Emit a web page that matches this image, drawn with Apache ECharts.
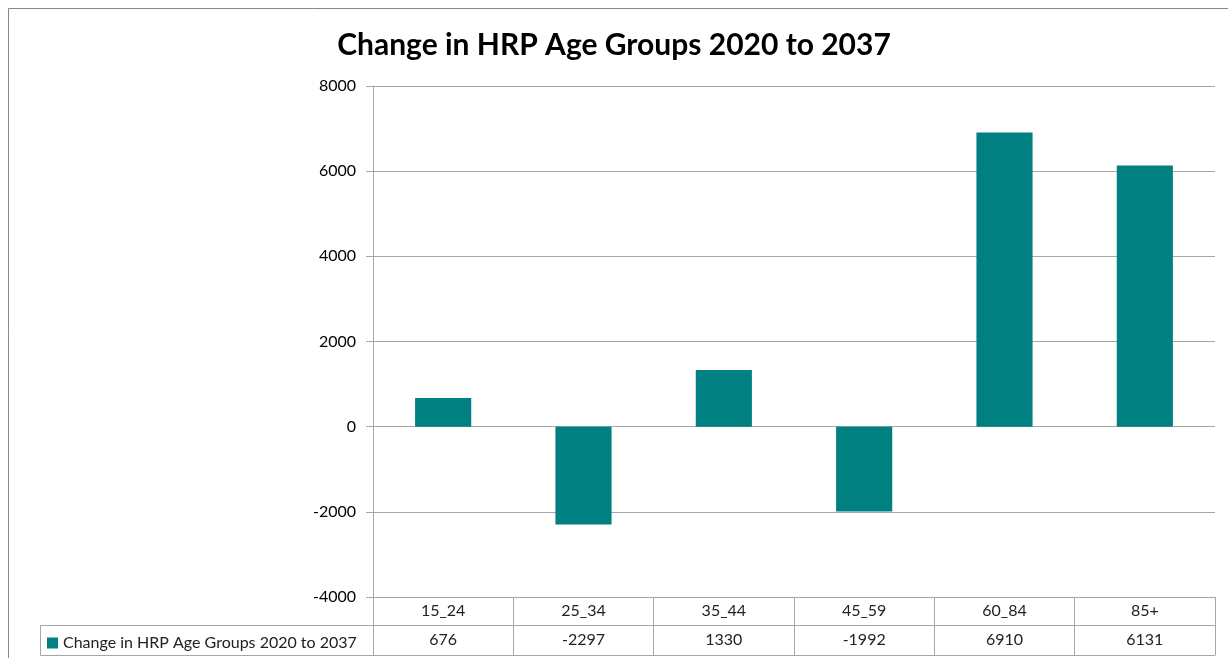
<!DOCTYPE html>
<html>
<head>
<meta charset="utf-8">
<script src="https://cdn.jsdelivr.net/npm/echarts@6/dist/echarts.min.js"></script>
<style>
html,body{margin:0;padding:0;background:#fff;}
#chart{width:1228px;height:658px;}
</style>
</head>
<body>
<div id="chart"></div>
<script>
const titleText = 'Change in HRP Age Groups 2020 to 2037';
const seriesName = 'Change in HRP Age Groups 2020 to 2037';
const categories = ['15_24', '25_34', '35_44', '45_59', '60_84', '85+'];
const values = [676, -2297, 1330, -1992, 6910, 6131];
const yMin = -4000, yMax = 8000, yStep = 2000;

const FONT = 'Lato, "Open Sans", sans-serif';
const LINE = '#a6a6a6';
const chart = echarts.init(document.getElementById('chart'));
chart.setOption({
  animation: false,
  backgroundColor: '#fff',
  title: {
    text: titleText,
    left: 'center',
    top: 25,
    textStyle: { fontFamily: FONT, fontSize: 30, fontWeight: 'bold', color: '#000' }
  },
  legend: {
    data: [seriesName],
    left: 42, top: 630,
    icon: 'rect', itemWidth: 11, itemHeight: 11, itemGap: 4,
    textStyle: { fontFamily: FONT, fontSize: 16, color: '#222' }
  },
  grid: { left: 373, right: 13, top: 86, bottom: 61 },
  xAxis: [
    {
      type: 'category', data: categories, position: 'bottom',
      axisLine: { show: true, onZero: false, lineStyle: { color: LINE } },
      axisTick: { show: true, length: 58, interval: 0, lineStyle: { color: LINE } },
      axisLabel: { margin: 6, fontFamily: FONT, fontSize: 16, color: '#222' },
      splitLine: { show: false }
    },
    {
      type: 'category', data: values.map(String), position: 'bottom', offset: 28,
      axisLine: { show: true, onZero: false, lineStyle: { color: LINE } },
      axisTick: { show: false },
      axisLabel: { margin: 7, fontFamily: FONT, fontSize: 16, color: '#222' }
    },
    {
      type: 'category', data: categories, position: 'bottom', offset: 58,
      axisLine: { show: true, onZero: false, lineStyle: { color: LINE } },
      axisTick: { show: false },
      axisLabel: { show: false }
    }
  ],
  yAxis: {
    type: 'value', min: yMin, max: yMax, interval: yStep,
    axisLine: { show: true, lineStyle: { color: LINE } },
    axisTick: { show: true, length: 7, lineStyle: { color: LINE } },
    axisLabel: { margin: 17, fontFamily: FONT, fontSize: 16, color: '#000',
      formatter: v => String(v) },
    splitLine: { show: true, lineStyle: { color: LINE } }
  },
  graphic: [
    { type: 'rect', silent: true, shape: { x: 8.5, y: 8.5, width: 1240, height: 700 },
      style: { fill: 'none', stroke: '#888', lineWidth: 1 } },
    { type: 'rect', silent: true, shape: { x: 40.5, y: 625.5, width: 333, height: 30 },
      style: { fill: 'none', stroke: LINE, lineWidth: 1 } }
  ],
  series: [{
    name: seriesName, type: 'bar', data: values, barWidth: '40%',
    itemStyle: { color: '#008080' }
  }]
});
</script>
</body>
</html>
